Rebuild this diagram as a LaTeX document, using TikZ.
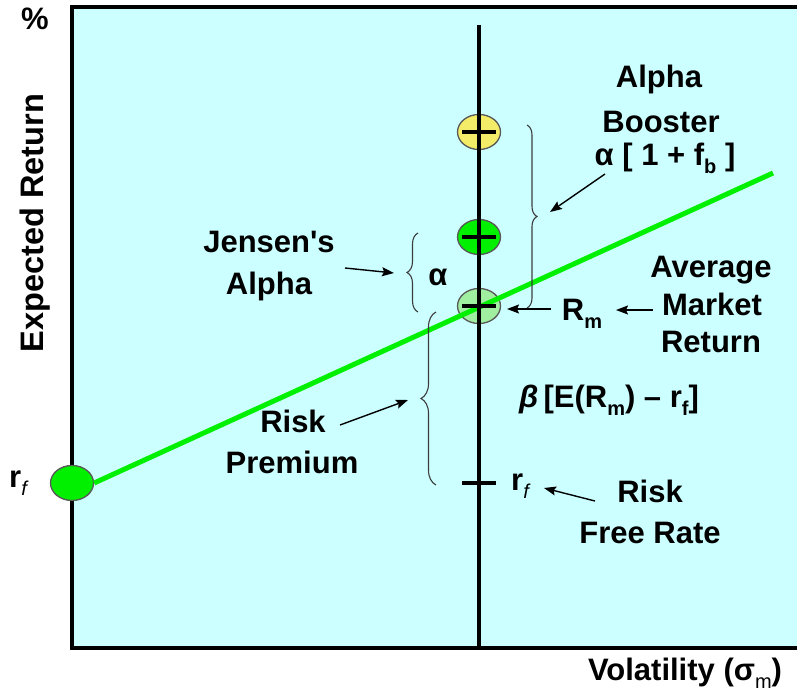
\documentclass[tikz,border=0pt]{standalone}
\usepackage{fontspec}
\setmainfont[Ligatures=TeXOff]{Liberation Sans}
\usetikzlibrary{shapes.geometric,decorations.pathreplacing,arrows.meta}
\definecolor{bg}{RGB}{204,255,255}
\definecolor{lgreen}{RGB}{0,240,0}
\definecolor{ylw}{RGB}{242,236,105}
\definecolor{pale}{RGB}{160,238,160}
\definecolor{bracec}{RGB}{60,60,60}
\newcommand\lsub[1]{\raisebox{-0.28em}{\fontsize{20}{20}\selectfont #1}}
\begin{document}
\begin{tikzpicture}[x=1pt,y=-1pt,
  lbl/.style={font=\fontsize{31}{36}\selectfont\bfseries, inner sep=0pt, anchor=base},
  marker/.style={ellipse, draw=black!65, line width=1.3pt, inner sep=0pt, minimum width=43pt, minimum height=35pt},
  tick/.style={line width=4pt, black},
  arr/.style={line width=1.4pt, -{Stealth[length=12pt,width=9pt,inset=2pt]}},
  brc/.style={draw=bracec, line width=1.1pt, decorate, decoration={brace, amplitude=#1}}
]
\useasboundingbox (0,0) rectangle (797,693);
% plot area
\fill[bg] (72,7) rectangle (797,648);
\draw[line width=3.5pt, line join=miter] (797,7) -- (72,7) -- (72,648) -- (797,648);

% markers (ellipses)
\node[marker, fill=pale] (mkt) at (479,306) {};
\node[marker, fill=ylw] (boost) at (479,132) {};
\node[marker, fill=lgreen] (jens) at (479,237) {};
\node[marker, fill=lgreen] (rfl) at (72,483) {};
\coordinate (lineend) at (773,173);

% security market line
\draw[lgreen, line width=5pt] (rfl.east) -- (lineend);

% vertical axis
\coordinate (vtop) at (479,25);
\coordinate (vbot) at (479,648);
\draw[line width=4pt] (vtop) -- (vbot);

% tick marks
\draw[tick] ([xshift=-17pt]boost.center) -- ([xshift=17pt]boost.center);
\draw[tick] ([xshift=-17pt]jens.center) -- ([xshift=17pt]jens.center);
\draw[tick] ([xshift=-17pt]mkt.center) -- ([xshift=17pt]mkt.center);
\coordinate (rft) at (479,483);
\draw[tick] ([xshift=-17pt]rft) -- ([xshift=17pt]rft);

% braces
\coordinate (b1t) at (527,125);
\coordinate (b1b) at (527,308);
\draw[brc=10pt] (b1t) -- (b1b);
\coordinate (b2t) at (418,233);
\coordinate (b2b) at (418,312);
\draw[brc=11pt] (b2b) -- (b2t);
\coordinate (b3t) at (436,312);
\coordinate (b3b) at (436,485);
\draw[brc=15pt] (b3b) -- (b3t);

% texts
\node[lbl] (pct) at (35,30) {\%};
\node[lbl, rotate=90, font=\fontsize{32.5}{36}\selectfont\bfseries] (yax) at (43,223) {Expected Return};
\node[lbl] (rfleft) at (18,487) {r\lsub{\mdseries\itshape f}};
\node[lbl] (j1) at (269,252) {Jensen's};
\node[lbl] (j2) at (269,294) {Alpha};
\node[lbl] (alpha) at (438,285) {α};
\node[lbl] (ab1) at (659,87) {Alpha};
\node[lbl] (ab2) at (661,132) {Booster};
\node[lbl] (ab3) at (665,165) {α [ 1 + f\lsub{b} ]};
\node[lbl] (am1) at (711,277) {Average};
\node[lbl] (am2) at (712,315) {Market};
\node[lbl] (am3) at (711,352) {Return};
\node[lbl] (rm) at (582,320) {R\lsub{m}};
\node[lbl] (beta) at (609,407) {\textit{β}\,[E(R\lsub{m}) – r\lsub{f}]};
\node[lbl] (rp1) at (293,432) {Risk};
\node[lbl] (rp2) at (292,473) {Premium};
\node[lbl] (rfr) at (520,490) {r\lsub{\mdseries\itshape f}};
\node[lbl] (rf1) at (650,502) {Risk};
\node[lbl] (rf2) at (650,543) {Free Rate};
\node[lbl] (vol) at (685,680) {Volatility (σ\lsub{\mdseries m})};

% arrows
\coordinate (a1s) at (345,268); \coordinate (a1e) at (394,273);
\draw[arr] (a1s) -- (a1e);
\coordinate (a2s) at (340,425); \coordinate (a2e) at (408,400);
\draw[arr] (a2s) -- (a2e);
\coordinate (a3s) at (605,174); \coordinate (a3e) at (550,212);
\draw[arr] (a3s) -- (a3e);
\coordinate (a4s) at (551,309); \coordinate (a4e) at (507,309);
\draw[arr] (a4s) -- (a4e);
\coordinate (a5s) at (653,310); \coordinate (a5e) at (616,310);
\draw[arr] (a5s) -- (a5e);
\coordinate (a6s) at (595,501); \coordinate (a6e) at (544,488);
\draw[arr] (a6s) -- (a6e);
\end{tikzpicture}
\end{document}
